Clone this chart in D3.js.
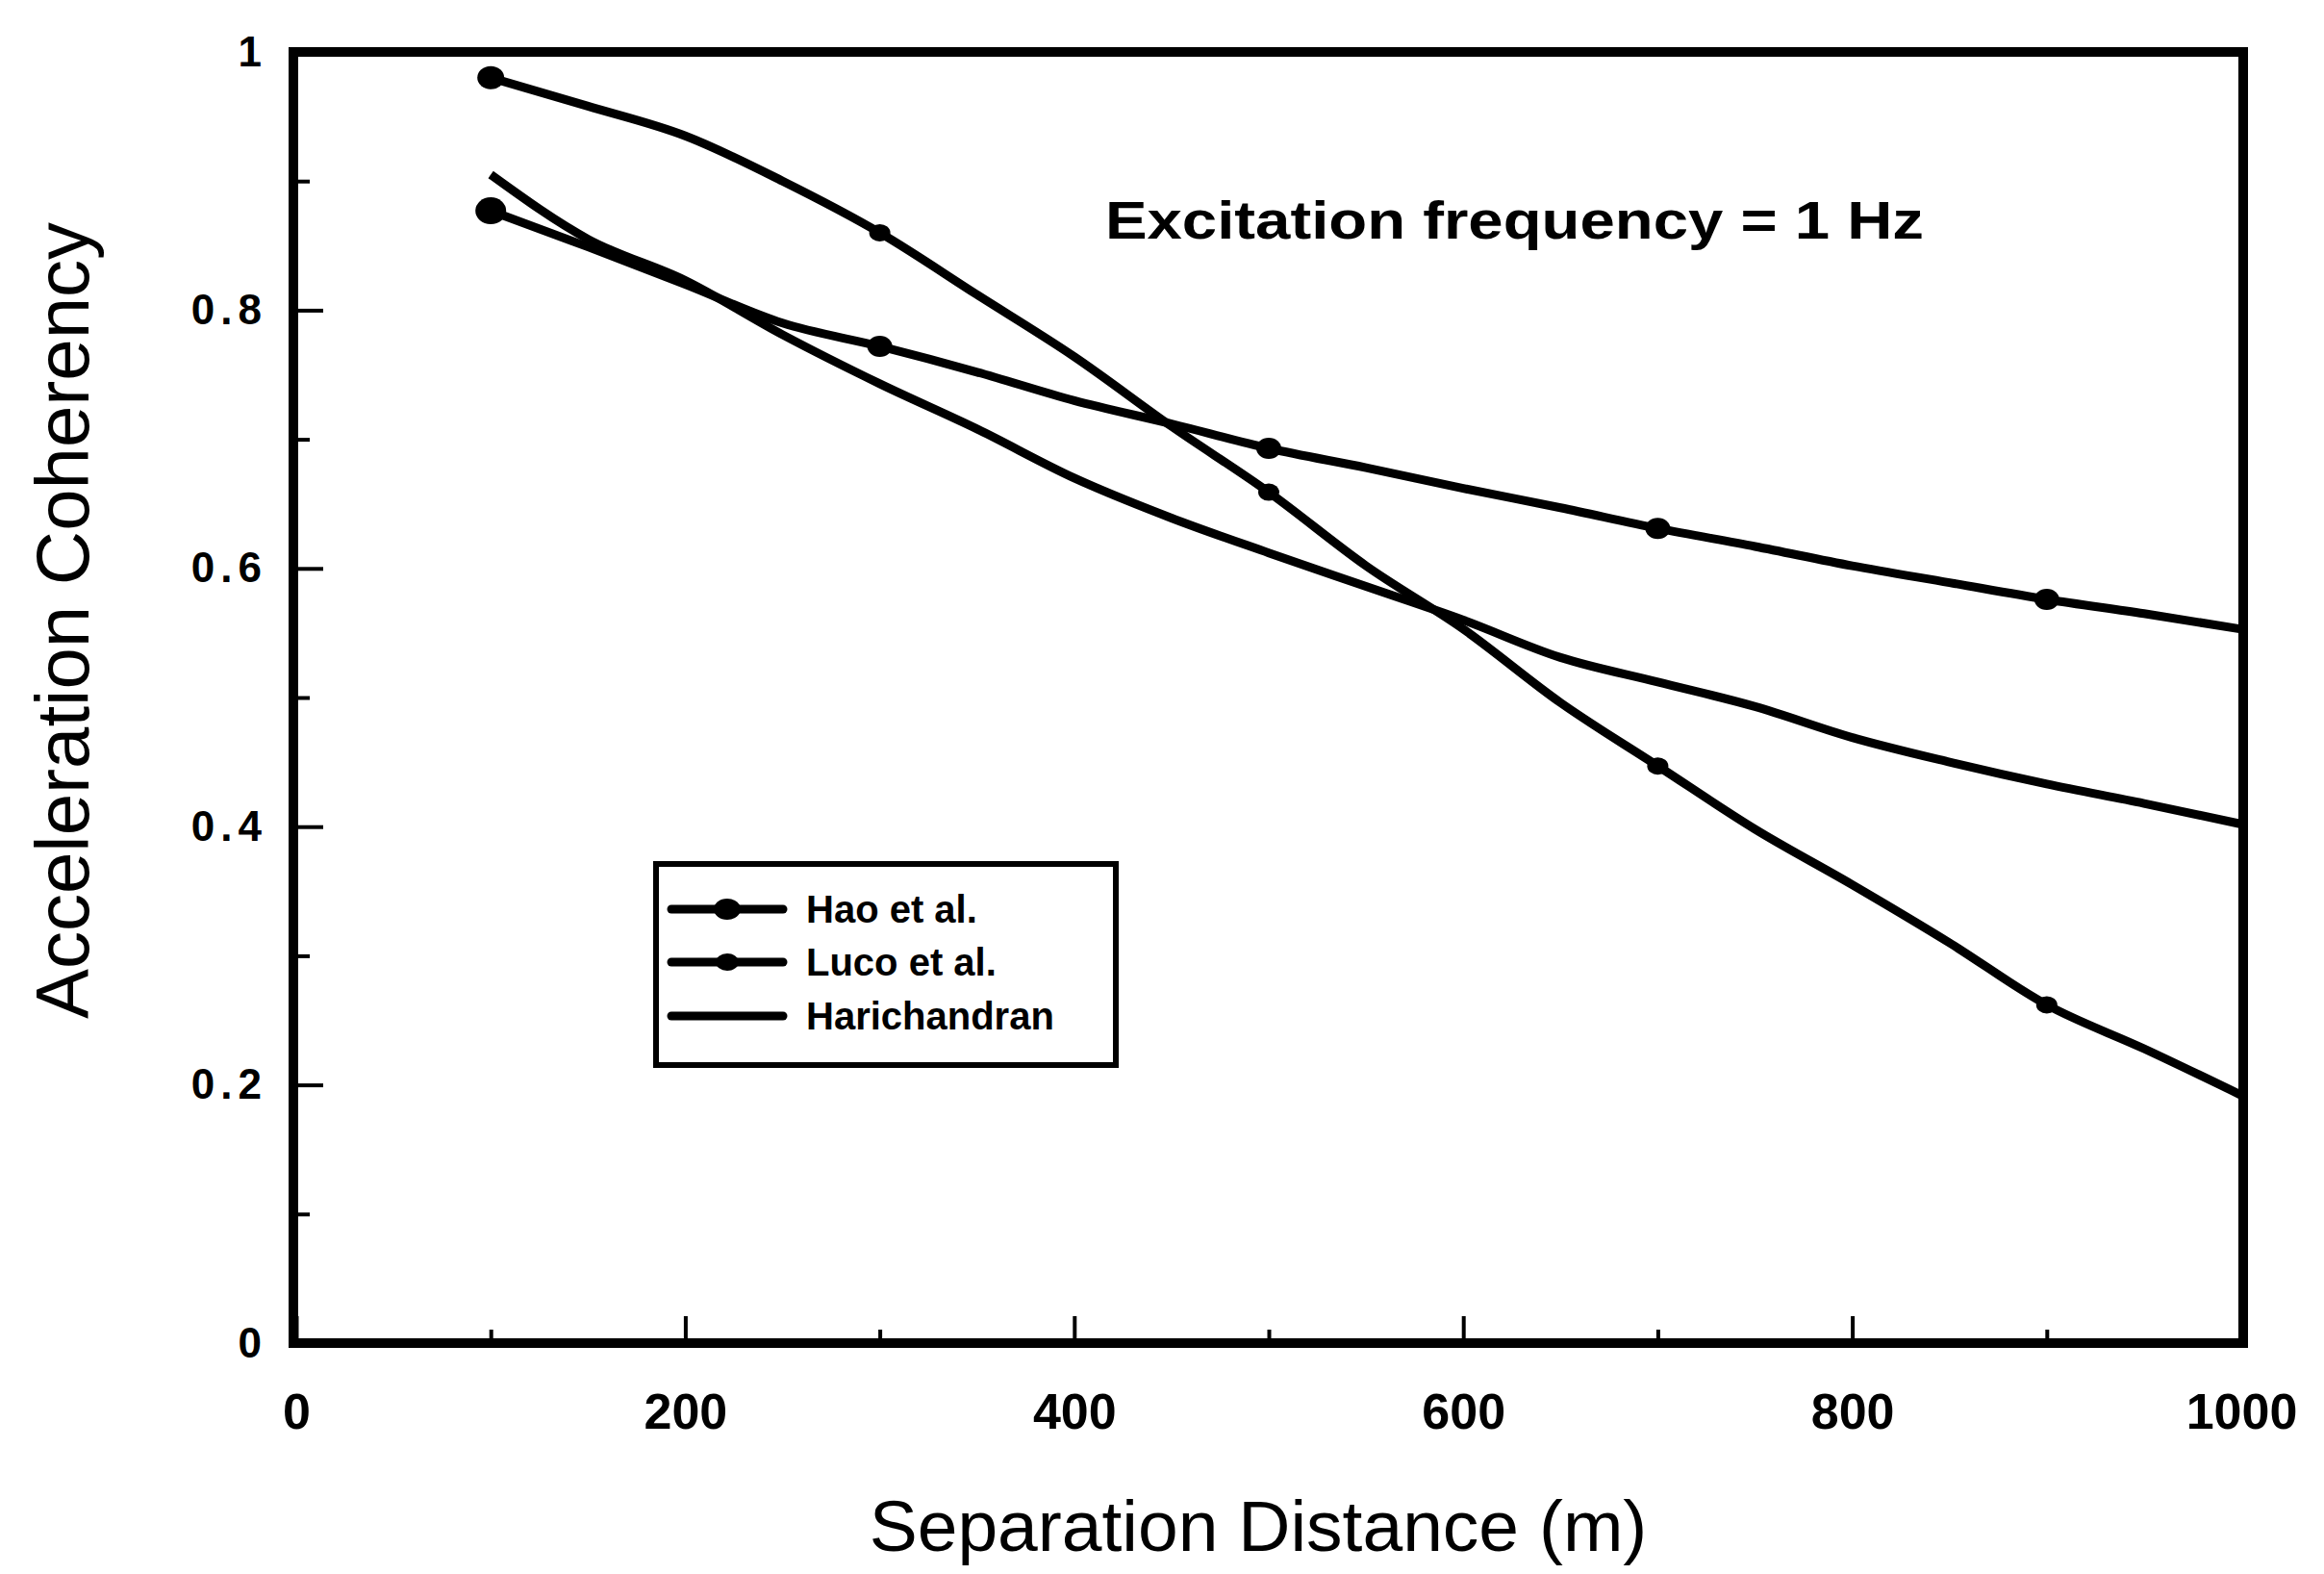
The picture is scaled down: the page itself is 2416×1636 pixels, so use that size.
<!DOCTYPE html>
<html>
<head>
<meta charset="utf-8">
<script src="https://cdn.jsdelivr.net/npm/d3@7"></script>
<style>
  body { margin: 0; background: #fff; }
  text { font-family: Arial, "Liberation Sans", sans-serif; fill: #000; }
</style>
</head>
<body>
<div id="chart"></div>
<script>
// Data (coherency at 1 Hz vs separation distance)
var distances = [100, 150, 200, 250, 300, 350, 400, 450, 500, 550, 600, 650, 700, 750, 800, 850, 900, 950, 1000];
var haoValues = [0.877, 0.849, 0.82, 0.79, 0.772, 0.752, 0.73, 0.712, 0.693, 0.678, 0.662, 0.647, 0.631, 0.617, 0.602, 0.589, 0.576, 0.565, 0.553];
var lucoValues = [0.98, 0.958, 0.935, 0.90, 0.86, 0.812, 0.764, 0.71, 0.659, 0.602, 0.553, 0.496, 0.447, 0.398, 0.355, 0.31, 0.262, 0.228, 0.192];
var harichandranValues = [0.905, 0.855, 0.823, 0.781, 0.743, 0.708, 0.67, 0.639, 0.612, 0.586, 0.56, 0.531, 0.512, 0.493, 0.469, 0.45, 0.433, 0.418, 0.402];
var markerDistances = [100, 300, 500, 700, 900];

var seriesNames = ["Hao et al.", "Luco et al.", "Harichandran"];
var xTicks = [0, 200, 400, 600, 800, 1000];
var xMinorTicks = [100, 300, 500, 700, 900];
var yTicks = [0, 0.2, 0.4, 0.6, 0.8, 1];
var yMinorTicks = [0.1, 0.3, 0.5, 0.7, 0.9];
var annotation = "Excitation frequency = 1 Hz";
var xTitle = "Separation Distance (m)";
var yTitle = "Acceleration Coherency";

var svgWidth = 2416;
var svgHeight = 1636;

var margin = { top: 54, right: 86, bottom: 240, left: 308 };
var width = svgWidth - margin.left - margin.right;
var height = svgHeight - margin.top - margin.bottom;

var svg = d3.select("#chart")
  .append("svg")
  .attr("width", svgWidth)
  .attr("height", svgHeight);

var chartGroup = svg.append("g")
  .attr("transform", `translate(${margin.left}, ${margin.top})`);

var x = d3.scaleLinear().domain([0, 1000]).range([0, width]);
var y = d3.scaleLinear().domain([0, 1]).range([height, 0]);

// frame
chartGroup.append("rect")
  .attr("x", -3)
  .attr("y", 0)
  .attr("width", width + 5)
  .attr("height", height)
  .attr("fill", "none")
  .attr("stroke", "#000")
  .attr("stroke-width", 10);

// x axis (inward ticks)
var xAxis = chartGroup.append("g")
  .attr("transform", `translate(0, ${height})`)
  .call(d3.axisBottom(x).tickValues(xTicks).tickSizeInner(-28).tickSizeOuter(0).tickPadding(52)
    .tickFormat(d3.format("d")));
xAxis.select(".domain").remove();
xAxis.selectAll("line").attr("stroke-width", 4);
xAxis.selectAll("text")
  .style("font-size", "52px")
  .style("font-weight", "bold")
  .attr("dy", "0.71em");

var xMinor = chartGroup.append("g")
  .attr("transform", `translate(0, ${height})`)
  .call(d3.axisBottom(x).tickValues(xMinorTicks).tickSizeInner(-14).tickSizeOuter(0).tickFormat(""));
xMinor.select(".domain").remove();
xMinor.selectAll("line").attr("stroke-width", 4);

// y axis (inward ticks)
var yAxis = chartGroup.append("g")
  .call(d3.axisLeft(y).tickValues(yTicks).tickSizeInner(-28).tickSizeOuter(0).tickPadding(30)
    .tickFormat(d => d === 0 || d === 1 ? String(d) : d.toFixed(1)));
yAxis.select(".domain").remove();
yAxis.selectAll("line").attr("stroke-width", 4);
yAxis.selectAll("text")
  .style("font-size", "44px")
  .style("font-weight", "bold")
  .style("letter-spacing", "6px");

var yMinor = chartGroup.append("g")
  .call(d3.axisLeft(y).tickValues(yMinorTicks).tickSizeInner(-14).tickSizeOuter(0).tickFormat(""));
yMinor.select(".domain").remove();
yMinor.selectAll("line").attr("stroke-width", 4);

// curves
var series = [
  { name: seriesNames[0], values: haoValues, marker: 11 },
  { name: seriesNames[1], values: lucoValues, marker: 9 },
  { name: seriesNames[2], values: harichandranValues, marker: 0 }
];

var line = d3.line()
  .x(d => x(d[0]))
  .y(d => y(d[1]))
  .curve(d3.curveMonotoneX);

series.forEach(function(s) {
  var pts = distances.map((d, i) => [d, s.values[i]]);
  chartGroup.append("path")
    .datum(pts)
    .attr("fill", "none")
    .attr("stroke", "#000")
    .attr("stroke-width", 9)
    .attr("stroke-linejoin", "round")
    .attr("d", line);

  if (s.marker > 0) {
    chartGroup.append("g")
      .selectAll("ellipse")
      .data(pts.filter(p => markerDistances.indexOf(p[0]) >= 0))
      .enter()
      .append("ellipse")
      .attr("cx", d => x(d[0]))
      .attr("cy", d => y(d[1]))
      .attr("rx", (d, i) => i === 0 ? s.marker + 5 : s.marker + 2)
      .attr("ry", (d, i) => i === 0 ? s.marker + 3 : s.marker)
      .attr("fill", "#000");
  }
});

// annotation
chartGroup.append("text")
  .attr("x", 1149 - margin.left)
  .attr("y", 248 - margin.top)
  .attr("textLength", 851)
  .attr("lengthAdjust", "spacingAndGlyphs")
  .style("font-size", "56px")
  .style("font-weight", "bold")
  .text(annotation);

// legend
var legend = svg.append("g");
legend.append("rect")
  .attr("x", 682)
  .attr("y", 898)
  .attr("width", 478)
  .attr("height", 209)
  .attr("fill", "#fff")
  .attr("stroke", "#000")
  .attr("stroke-width", 6);

var legendRows = [945, 1000, 1056];
series.forEach(function(s, i) {
  legend.append("line")
    .attr("x1", 698).attr("x2", 814)
    .attr("y1", legendRows[i]).attr("y2", legendRows[i])
    .attr("stroke", "#000")
    .attr("stroke-width", 9)
    .attr("stroke-linecap", "round");
  if (s.marker > 0) {
    legend.append("ellipse")
      .attr("cx", 756).attr("cy", legendRows[i])
      .attr("rx", s.marker + 3).attr("ry", s.marker)
      .attr("fill", "#000");
  }
  legend.append("text")
    .attr("x", 838)
    .attr("y", legendRows[i])
    .attr("dy", "0.36em")
    .style("font-size", "40px")
    .style("font-weight", "bold")
    .text(s.name);
});

// axis titles
svg.append("text")
  .attr("transform", "translate(1308, 1612)")
  .attr("text-anchor", "middle")
  .style("font-size", "75px")
  .text(xTitle);

svg.append("g")
  .attr("transform", "translate(92, 645) rotate(-90)")
  .append("text")
  .attr("text-anchor", "middle")
  .style("font-size", "78px")
  .text(yTitle);
</script>
</body>
</html>
